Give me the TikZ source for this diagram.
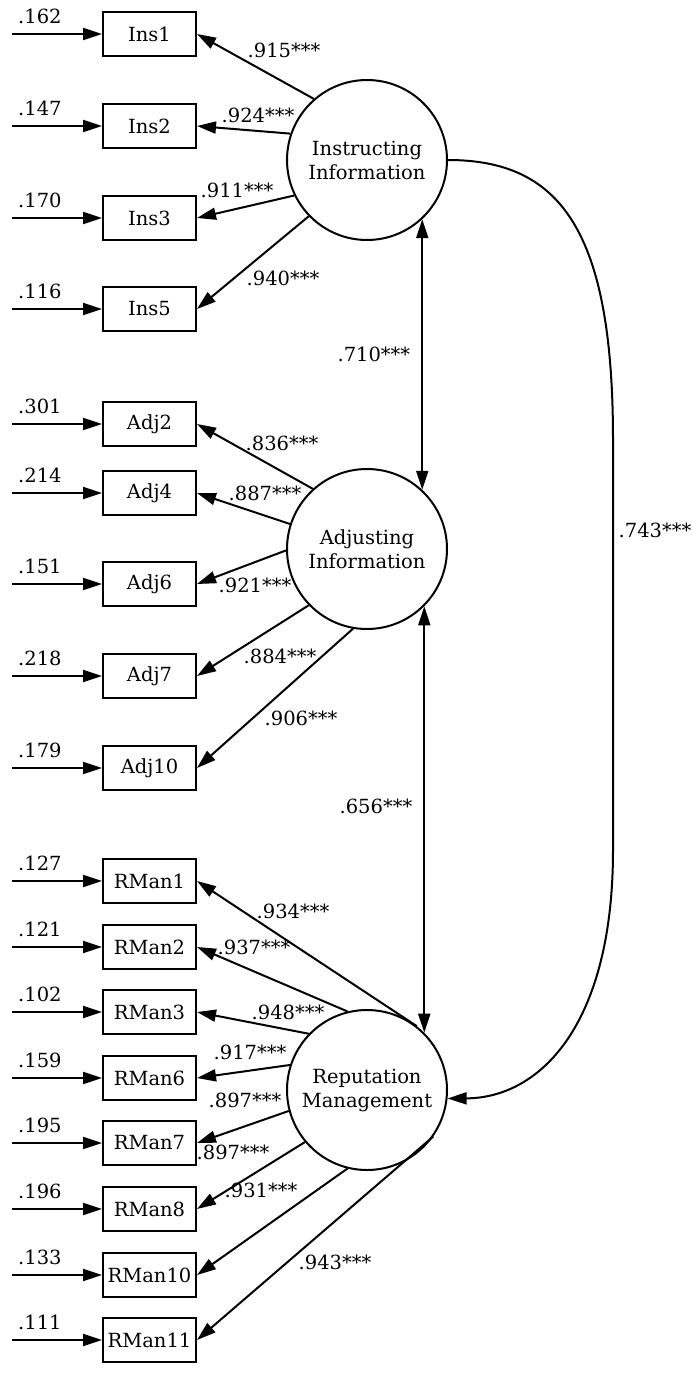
\documentclass[tikz,border=0pt]{standalone}
\usepackage{fontspec}
\setmainfont{DejaVu Serif}
\usetikzlibrary{arrows.meta}
\tikzset{
  every node/.style={font=\fontsize{19.5}{24}\selectfont},
  box/.style={draw, line width=2pt, minimum width=93pt, minimum height=44pt, inner sep=0pt},
  latent/.style={draw, circle, line width=2pt, minimum size=160pt, inner sep=0pt, align=center},
  arr/.style={line width=2pt, -{Triangle[length=19pt,width=12pt]}},
  arrb/.style={line width=2pt, {Triangle[length=19pt,width=12pt]}-{Triangle[length=19pt,width=12pt]}},
  lbl/.style={inner sep=1pt},
}
\begin{document}
\begin{tikzpicture}[x=1pt,y=-1pt]
\useasboundingbox (0,0) rectangle (691,1387);
% latent variables
\node[latent] (ins) at (367,160) {Instructing\\Information};
\node[latent] (adj) at (367,549) {Adjusting\\Information};
\node[latent] (rep) at (367,1090) {Reputation\\Management};
% indicators
\foreach \n/\t/\y/\e in {ins1/Ins1/34/.162, ins2/Ins2/126/.147, ins3/Ins3/218/.170, ins5/Ins5/309/.116,
  adj2/Adj2/424/.301, adj4/Adj4/493/.214, adj6/Adj6/584/.151, adj7/Adj7/676/.218, adj10/Adj10/768/.179,
  rm1/RMan1/881/.127, rm2/RMan2/947/.121, rm3/RMan3/1012/.102, rm6/RMan6/1078/.159, rm7/RMan7/1143/.195,
  rm8/RMan8/1209/.196, rm10/RMan10/1275/.133, rm11/RMan11/1340/.111}{
  \node[box] (\n) at (149.5,\y) {\t};
  \coordinate (e\n) at (12,\y);
  \draw[arr] (e\n) -- node[lbl, pos=0.31, above=8pt] (l\n) {\e} (\n.west);
}
% loadings
\draw[arr] (ins.131.5) -- (ins1.east);
\draw[arr] (ins.161.3) -- (ins2.east);
\draw[arr] (ins.206.6) -- (ins3.east);
\draw[arr] (ins.224) -- (ins5.east);
\draw[arr] (adj.132) -- (adj2.east);
\draw[arr] (adj.162) -- (adj4.east);
\draw[arr] (adj.181.4) -- (adj6.east);
\draw[arr] (adj.224) -- (adj7.east);
\draw[arr] (adj.260) -- (adj10.east);
\draw[arr] (rep.52) -- (rm1.east);
\draw[arr] (rep.104.6) -- (rm2.east);
\draw[arr] (rep.136) -- (rm3.east);
\draw[arr] (rep.162) -- (rm6.east);
\draw[arr] (rep.195) -- (rm7.east);
\draw[arr] (rep.220) -- (rm8.east);
\draw[arr] (rep.256) -- (rm10.east);
\draw[arr] (rep.325) -- (rm11.east);
% loading labels
\node[lbl] (w1) at (284,50) {.915***};
\node[lbl] (w2) at (258,115) {.924***};
\node[lbl] (w3) at (237,190) {.911***};
\node[lbl] (w5) at (283,278) {.940***};
\node[lbl] (v2) at (282,443) {.836***};
\node[lbl] (v4) at (265,493) {.887***};
\node[lbl] (v6) at (255,585) {.921***};
\node[lbl] (v7) at (280,656) {.884***};
\node[lbl] (v10) at (301,718) {.906***};
\node[lbl] (u1) at (293,911) {.934***};
\node[lbl] (u2) at (254,947) {.937***};
\node[lbl] (u3) at (288,1012) {.948***};
\node[lbl] (u6) at (250,1052) {.917***};
\node[lbl] (u7) at (245,1100) {.897***};
\node[lbl] (u8) at (233,1152) {.897***};
\node[lbl] (u10) at (261,1190) {.931***};
\node[lbl] (u11) at (335,1262) {.943***};
% covariances
\draw[arrb] (ins.-47.5) -- node[lbl, pos=0.5, left=10pt] (c1) {.710***} (adj.47.5);
\draw[arrb] (adj.-45.6) -- node[lbl, pos=0.47, left=10pt] (c2) {.656***} (rep.45.6);
\draw[arr] (ins.east) .. controls (560,160) and (613,230) .. (613,440) -- (613,850) .. controls (613,1025) and (540,1098) .. (rep.-6);
\node[lbl] (c3) at (655,530) {.743***};
\end{tikzpicture}
\end{document}
